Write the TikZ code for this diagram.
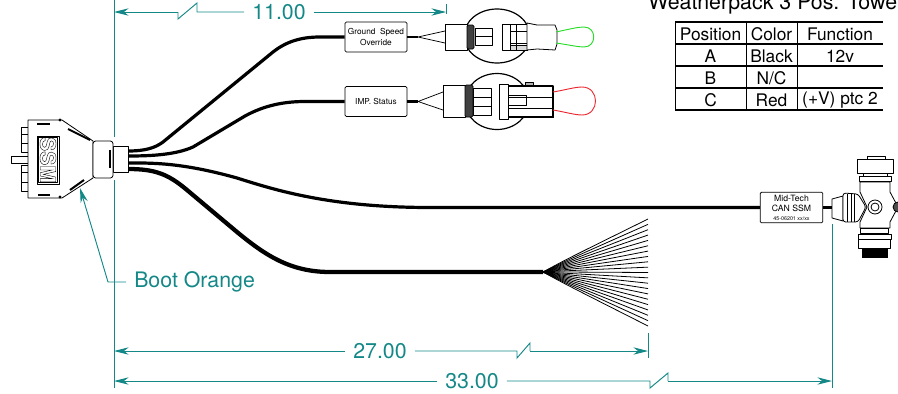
\documentclass[tikz,border=0pt]{standalone}
\usepackage{fontspec}
\setmainfont{TeX Gyre Heros}
\usetikzlibrary{arrows.meta}
\usetikzlibrary{positioning}
\definecolor{dimteal}{RGB}{20,135,135}
\definecolor{greenloop}{RGB}{40,220,40}
\definecolor{redloop}{RGB}{235,40,50}
\tikzstyle{part}     = [draw=black, line width=0.6pt, line join=round]
\tikzstyle{wire}     = [draw=black, line width=2.4pt, line join=round]
\tikzstyle{lead}     = [draw=black, line width=0.55pt]
\tikzstyle{band}     = [fill=black!75, draw=black, line width=0.6pt, rounded corners=1pt]
\tikzstyle{ring}     = [draw=black, line width=0.9pt]
\tikzstyle{dimline}  = [draw=dimteal, line width=0.7pt]
\tikzstyle{dimarrow} = [dimline, -{Stealth[length=11pt,width=5.5pt]}]
\tikzstyle{dimtext}  = [text=dimteal, font=\fontsize{16}{18}\selectfont, inner xsep=6pt, inner ysep=0pt]
\tikzstyle{inline}   = [part, fill=white, rounded corners=1pt, align=center, inner sep=0pt, minimum height=22.5pt]
\tikzstyle{cell}     = [font=\fontsize{13}{15}\selectfont, inner sep=0pt]
\begin{document}
\begin{tikzpicture}[x=0.75pt, y=-0.75pt]
     \useasboundingbox (0,0) rectangle (898,393);
     \clip (0,0) rectangle (898,393);
     % extension lines
     \draw[dimline] (114,0) -- (114,137) (114,180) -- (114,388);
     \draw[dimline] (446,4) -- (446,14);
     \draw[dimline] (648,333) -- (648,358);
     \draw[dimline] (832,224) -- (832,388);
     % wire harness
     \coordinate (w1) at (128,151);
     \coordinate (w2) at (128,156);
     \coordinate (w3) at (128,163);
     \coordinate (w4) at (128,169);
     \coordinate (apex) at (543,272);
     \node[inline, minimum width=46.5pt, font=\fontsize{6.2}{7.8}\selectfont] (gso) at (376,37) {Ground\ \ Speed\\Override};
     \node[inline, minimum width=46.5pt, font=\fontsize{6.2}{7.8}\selectfont] (imp) at (376,101.5) {IMP.\ Status};
     \node[inline, minimum width=47pt, minimum height=23pt, font=\fontsize{6.5}{7.6}\selectfont] (can) at (791.5,207.5)
       {Mid-Tech\\CAN SSM\\[-1pt]{\fontsize{4}{5}\selectfont 45-06201 xx/xx}};
     \draw[wire] (w1) .. controls (145,151) and (155,148) .. (163,142) -- (273,52) .. controls (287,41) and (302,37) .. (320,37) -- (gso.west);
     \draw[wire] (w2) .. controls (150,156) and (175,155) .. (193,147) -- (245,116) .. controls (265,105) and (285,101.5) .. (305,101.5) -- (imp.west);
     \draw[wire] (w3) .. controls (150,163) and (180,162) .. (237,178) .. controls (275,190) and (330,207.5) .. (430,207.5) -- (can.west);
     \draw[wire, line width=3.2pt] (w4) .. controls (155,169) and (168,174) .. (187,190) -- (237,232) .. controls (265,255) and (290,272) .. (330,272) -- (apex);
     % fan of loose wires
     \foreach \i in {0,...,20}
       \draw[black, line width=0.6pt] (apex) .. controls (565,{272+(\i-10)*1.2}) .. (648,{219+5.35*\i});
     % connector and boot
     \draw[part, fill=white] (21,127) rectangle (28,152);
     \draw[part, fill=white] (21,165) rectangle (28,191);
     \draw[part] (21,134) -- (28,134) (21,143) -- (28,143) (21,172) -- (28,172) (21,182) -- (28,182);
     \draw[part, fill=white] (11,156) rectangle (28,163);
     \draw[part, fill=white] (28,120) -- (62,120) -- (93,141) -- (93,178) -- (62,198) -- (28,198) -- cycle;
     \draw[part, fill=white] (113,146) rectangle (128,172);
     \draw[part, fill=white, rounded corners=2pt] (93,141) rectangle (113,178);
     \draw[part, line width=1.2pt] (37,124) -- (50,124) (38,195) -- (50,195) (110,150) -- (110,168);
     \draw[line width=1.5pt] (68,129) -- (90,140) (70,190) -- (84,180);
     \draw[part] (37,136) rectangle (59,184) (38.5,137.5) rectangle (57.5,182.5);
     \node[font=\bfseries\fontsize{16}{16}\selectfont, rotate=-90, text=black, inner sep=0pt] (ssm) at (48,160)
       {\special{pdf:code 1 Tr 0.3 w}SSM\special{pdf:code 0 Tr}};
     \fill (60,120) circle (1.6) (60,197) circle (1.6);
     % ground speed detail
     \draw[ring] (497,36) ellipse (33 and 27);
     \draw[lead] (407,37) -- (418,37) (418,37) -- (445,31) (418,37) -- (445,43);
     \draw[line width=2pt] (gso.east) -- (418,37);
     \draw[part, fill=white] (475,28) rectangle (492,45) (475,36.5) -- (492,36.5);
     \draw[part, fill=white] (445,24) rectangle (467,50);
     \draw[band] (467,25) rectangle (474,49);
     \draw[part, fill=white] (502,24) rectangle (527,50);
     \draw[part, fill=black!15] (510,45) rectangle (527,50);
     \draw[part] (510,24) -- (510,50) (516,24) -- (516,50) (510,31) -- (527,31) (510,43) -- (527,43);
     \draw[part, fill=white] (527,23) -- (537,25) -- (555,25) -- (557,30) -- (557,44) -- (555,50) -- (537,49) -- (527,50) -- cycle;
     \draw[greenloop, line width=0.7pt] (556,32) .. controls (570,29) and (578,27) .. (584,27)
       .. controls (597,27) and (597,47) .. (584,47) .. controls (578,47) and (570,45) .. (556,43);
     % imp status detail
     \draw[ring] (497,101.5) ellipse (32 and 28);
     \draw[lead] (407,101.5) -- (418,101.5) (418,101.5) -- (443,92) (418,101.5) -- (443,110);
     \draw[line width=2pt] (imp.east) -- (418,101.5);
     \draw[part, fill=white] (473,88) rectangle (491,115) (473,97) -- (491,97) (473,106) -- (491,106);
     \draw[part, fill=white] (443,85) rectangle (465,117);
     \draw[band] (465,85) rectangle (473,117);
     \draw[part, fill=white] (499,84) rectangle (508,119);
     \draw[part, fill=white] (508,86) rectangle (553,117);
     \draw[part, fill=black!30] (525,82) rectangle (533,86);
     \draw[part, line width=0.9pt] (508,86) -- (553,86) -- (553,117) -- (508,117);
     \draw[part] (508,97) -- (553,97) (508,108) -- (553,108) (508,95) rectangle (526,105);
     \draw[redloop, line width=0.7pt] (553,92) .. controls (565,90) and (575,87) .. (582,87)
       .. controls (600,87) and (600,115) .. (582,115) .. controls (575,115) and (565,112) .. (553,110);
     % t fitting
     \draw[line width=2pt] (can.east) -- (833,207.5);
     \draw[part, fill=white] (832,199) -- (843,196) -- (843,221) -- (832,218) -- cycle;
     \draw[part, fill=white, rounded corners=2pt] (843,193) -- (858,194) -- (866,207) -- (858,222) -- (843,222) -- cycle;
     \draw[part] (847,194) -- (847,222) (851,194) -- (851,222) (854,194) -- (854,222);
     \draw[part, fill=white] (860,182) -- (890,182) -- (890,192) -- (898,207) -- (890,222) -- (890,228) -- (860,228) -- (860,222) -- (867,207) -- (860,192) -- cycle;
     \draw[part, fill=white] (875,207) circle (7);
     \draw[part, fill=white] (875,207) circle (4);
     \draw[part, fill=black!70] (898,207) circle (5);
     \draw[part, fill=white] (867,156) rectangle (885,159);
     \draw[part, fill=white] (857,159) rectangle (893,173);
     \draw[part, fill=white] (863,173) rectangle (887,176);
     \draw[part, fill=white] (859,176) rectangle (891,181);
     \draw[part, fill=white] (860,228) rectangle (888,233);
     \draw[part, fill=white] (858,234) rectangle (891,239);
     \draw[part, fill=white] (858,239) rectangle (890,248);
     \fill[black] (862,248) rectangle (888,258);
     % dimensions
     \node[dimtext] (dimA) at (279,12) {11.00};
     \coordinate (dimAl) at (114,12);
     \coordinate (dimAr) at (446,12);
     \draw[dimarrow] (178,12) -- (dimAl);
     \draw[dimline] (178,12) -- (178,19) -- (197,3) -- (197,12) -- (dimA.west);
     \draw[dimarrow] (dimA.east) -- (dimAr);
     \node[dimtext] (dimB) at (380,351) {27.00};
     \coordinate (dimBl) at (114,351);
     \coordinate (dimBr) at (648,351);
     \draw[dimarrow] (dimB.west) -- (dimBl);
     \draw[dimline] (dimB.east) -- (517,351) -- (517,358) -- (530,343) -- (530,351);
     \draw[dimarrow] (530,351) -- (dimBr);
     \node[dimtext] (dimC) at (472,381) {33.00};
     \coordinate (dimCl) at (114,381);
     \coordinate (dimCr) at (832,381);
     \draw[dimarrow] (dimC.west) -- (dimCl);
     \draw[dimline] (dimC.east) -- (650,381) -- (650,388) -- (668,373) -- (668,381);
     \draw[dimarrow] (668,381) -- (dimCr);
     % boot leader
     \node[dimtext, anchor=west] (bootlbl) at (126,282) {Boot Orange};
     \coordinate (bootknee) at (108,282);
     \coordinate (boottip) at (80,188);
     \draw[dimarrow] (bootlbl.west) -- (bootknee) -- (boottip);
     % pinout table
     \node[anchor=base west, inner sep=0pt, font=\fontsize{16}{18}\selectfont] (pinout) at (648,9) {Weatherpack 3 Pos. Towe};
     \draw[line width=0.9pt] (675,22) -- (883,22) (675,44) -- (883,44) (675,66) -- (883,66) (675,88) -- (883,88) (675,110) -- (883,110);
     \draw[line width=0.7pt] (675,22) -- (675,110) (746,22) -- (746,110) (797,22) -- (797,110);
     \node[cell] (hpos) at (710.5,34) {Position};
     \node[cell] (hcol) at (771.5,34) {Color};
     \node[cell] (hfun) at (840,34) {Function};
     \node[cell] (posa) at (710.5,56) {A};
     \node[cell] (cola) at (771.5,56) {Black};
     \node[cell] (funa) at (840,56) {12v};
     \node[cell] (posb) at (710.5,78) {B};
     \node[cell] (colb) at (771.5,78) {N/C};
     \node[cell] (posc) at (710.5,100) {C};
     \node[cell] (colc) at (771.5,100) {Red};
     \node[cell] (func) at (840,100) {(+V) ptc 2};
\end{tikzpicture}
\end{document}
